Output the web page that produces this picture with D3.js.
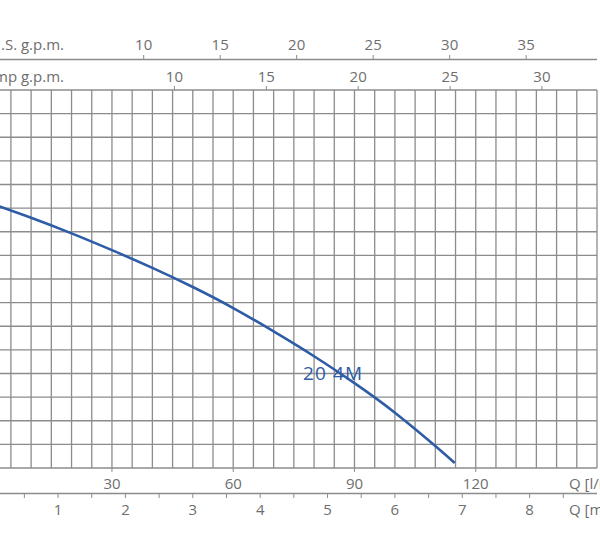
<!DOCTYPE html>
<html>
<head>
<meta charset="utf-8">
<script src="https://cdn.jsdelivr.net/npm/d3@7"></script>
<style>
  body { margin: 0; background: #fff; }
  svg { display: block; }
</style>
</head>
<body>
<script>
// pump curve 20 4M, flow in l/min, head in m (left axis cropped off)
var flowLpm = [0, 10, 20, 30, 40, 50, 60, 70, 80, 90, 100, 110, 114.8];
var headM = [112.0, 105.9, 99.3, 92.2, 84.7, 76.6, 67.7, 57.8, 47.3, 35.9, 23.4, 9.3, 2.1];
var curveName = "20 4M";

var lpmTicks = [30, 60, 90, 120];
var m3hTicks = [1, 2, 3, 4, 5, 6, 7, 8];
var usTicks = [10, 15, 20, 25, 30, 35];
var impTicks = [10, 15, 20, 25, 30];

var W = 600, H = 545;
var grey = "#6e6e6e", gridCol = "#8c8c8c", blue = "#2e5ca6";

var svg = d3.select("body").append("svg")
    .attr("width", W)
    .attr("height", H);

var x = d3.scaleLinear().domain([0, 150]).range([-9.3, 597]);
var y = d3.scaleLinear().domain([0, 160]).range([468, 90]);
var xM3h = d3.scaleLinear().domain([0, 150 * 60 / 1000]).range(x.range());
var xUs = d3.scaleLinear().domain([0, 150 / 3.785]).range(x.range());
var xImp = d3.scaleLinear().domain([0, 150 / 4.546]).range(x.range());

// grid
var grid = svg.append("g").attr("stroke", gridCol).attr("stroke-width", 1.3);
grid.selectAll("line.v")
    .data(d3.range(5, 151, 5))
    .enter().append("line")
    .attr("x1", function(d) { return x(d); })
    .attr("x2", function(d) { return x(d); })
    .attr("y1", y(160))
    .attr("y2", y(0));
grid.selectAll("line.h")
    .data(d3.range(0, 161, 10))
    .enter().append("line")
    .attr("x1", 0)
    .attr("x2", x(150))
    .attr("y1", function(d) { return y(d); })
    .attr("y2", function(d) { return y(d); });

function txt(g) {
    return g.attr("font-family", "'Open Sans', sans-serif")
        .attr("font-size", "15px")
        .attr("fill", grey);
}

// U.S. g.p.m. axis
svg.append("line")
    .attr("x1", 0).attr("x2", x(150))
    .attr("y1", 59.5).attr("y2", 59.5)
    .attr("stroke", gridCol).attr("stroke-width", 1.3);
svg.selectAll("line.us").data(usTicks).enter().append("line")
    .attr("x1", function(d) { return xUs(d); })
    .attr("x2", function(d) { return xUs(d); })
    .attr("y1", 55).attr("y2", 59.5)
    .attr("stroke", gridCol);
txt(svg.selectAll("text.us").data(usTicks).enter().append("text"))
    .attr("x", function(d) { return xUs(d); })
    .attr("y", 50)
    .attr("text-anchor", "middle")
    .text(function(d) { return d; });
txt(svg.append("text"))
    .attr("x", 64).attr("y", 50)
    .attr("text-anchor", "end")
    .text("U.S. g.p.m.");

// Imp g.p.m. axis (top of grid)
svg.selectAll("line.imp").data(impTicks).enter().append("line")
    .attr("x1", function(d) { return xImp(d); })
    .attr("x2", function(d) { return xImp(d); })
    .attr("y1", 86).attr("y2", 90)
    .attr("stroke", gridCol);
txt(svg.selectAll("text.imp").data(impTicks).enter().append("text"))
    .attr("x", function(d) { return xImp(d); })
    .attr("y", 82)
    .attr("text-anchor", "middle")
    .text(function(d) { return d; });
txt(svg.append("text"))
    .attr("x", 64).attr("y", 82)
    .attr("text-anchor", "end")
    .text("Imp g.p.m.");

// l/min axis
svg.selectAll("line.lpm").data(lpmTicks).enter().append("line")
    .attr("x1", function(d) { return x(d); })
    .attr("x2", function(d) { return x(d); })
    .attr("y1", 468).attr("y2", 472)
    .attr("stroke", gridCol);
txt(svg.selectAll("text.lpm").data(lpmTicks).enter().append("text"))
    .attr("x", function(d) { return x(d); })
    .attr("y", 488.5)
    .attr("text-anchor", "middle")
    .text(function(d) { return d; });
txt(svg.append("text"))
    .attr("x", 569).attr("y", 488.5)
    .text("Q [l/min]");

// m3/h axis
svg.append("line")
    .attr("x1", 0).attr("x2", x(150))
    .attr("y1", 493.5).attr("y2", 493.5)
    .attr("stroke", gridCol).attr("stroke-width", 1.3);
svg.selectAll("line.m3").data(d3.range(0.5, 9, 0.5)).enter().append("line")
    .attr("x1", function(d) { return xM3h(d); })
    .attr("x2", function(d) { return xM3h(d); })
    .attr("y1", 493.5).attr("y2", 498)
    .attr("stroke", gridCol);
txt(svg.selectAll("text.m3").data(m3hTicks).enter().append("text"))
    .attr("x", function(d) { return xM3h(d); })
    .attr("y", 514.5)
    .attr("text-anchor", "middle")
    .text(function(d) { return d; });
txt(svg.append("text"))
    .attr("x", 569).attr("y", 514.5)
    .text("Q [m\u00b3/h]");

// curve
var line = d3.line()
    .x(function(d, i) { return x(flowLpm[i]); })
    .y(function(d) { return y(d); })
    .curve(d3.curveNatural);
svg.append("path")
    .datum(headM)
    .attr("d", line)
    .attr("fill", "none")
    .attr("stroke", blue)
    .attr("stroke-width", 2.6);

svg.append("text")
    .attr("x", 303).attr("y", 380)
    .attr("font-family", "'Open Sans', sans-serif")
    .attr("font-size", "19px")
    .attr("fill", blue)
    .attr("textLength", 59)
    .text(curveName);
</script>
</body>
</html>
